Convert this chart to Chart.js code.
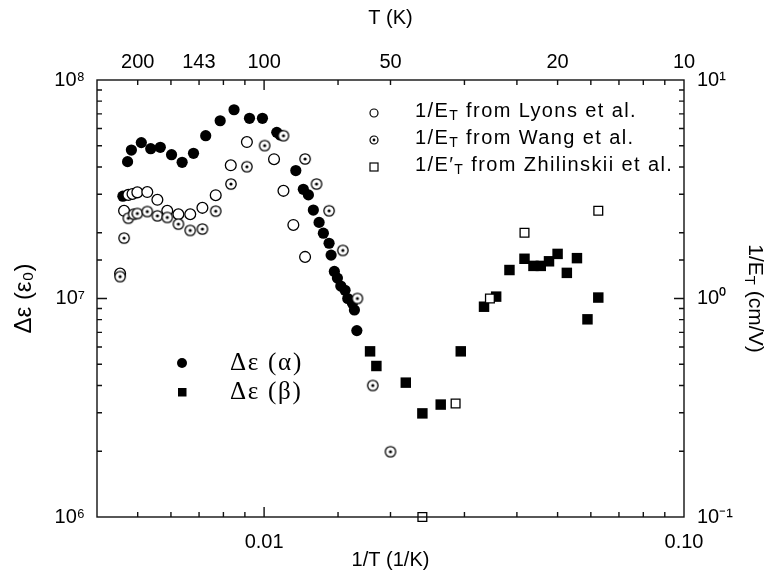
<!DOCTYPE html>
<html><head><meta charset="utf-8">
<script src="https://cdn.jsdelivr.net/npm/chart.js@4.4.1/dist/chart.umd.min.js"></script>
<style>html,body{margin:0;padding:0;background:#fff}#c{display:block}</style>
</head><body>
<canvas id="c" width="768" height="572"></canvas>
<script>
// ---- data (1/T in 1/K) ----
const alphaInvT = [0.00461,0.00473,0.00483,0.0051,0.00537,0.00566,0.00602,0.00638,0.00679,0.00726,0.00786,0.00848,0.00923,0.00991,0.01072,0.01092,0.0119,0.0124,0.01275,0.0131,0.01352,0.01384,0.01428,0.01444,0.0147,0.01495,0.01523,0.01559,0.01582,0.01623,0.01641,0.01663];
const alphaDeps = [2.94e7,4.23e7,4.78e7,5.17e7,4.85e7,4.92e7,4.55e7,4.20e7,4.62e7,5.56e7,6.51e7,7.31e7,6.68e7,6.68e7,5.76e7,5.6e7,3.85e7,3.16e7,2.98e7,2.54e7,2.23e7,1.99e7,1.79e7,1.58e7,1.33e7,1.24e7,1.14e7,1.09e7,1.0e7,9.5e6,8.86e6,7.13e6];
const betaInvT = [0.01788,0.01851,0.02175,0.02382,0.02634,0.0294,0.0334,0.0357,0.0384,0.0417,0.0438,0.0456,0.0477,0.0500,0.0526,0.0556,0.0589,0.0625];
const betaDeps = [5.73e6,4.91e6,4.12e6,2.98e6,3.27e6,5.73e6,9.17e6,1.02e7,1.35e7,1.52e7,1.41e7,1.41e7,1.48e7,1.60e7,1.31e7,1.53e7,8.03e6,1.01e7];
const lyonsInvT = [0.00454,0.00464,0.00475,0.00486,0.00499,0.00527,0.00557,0.00588,0.00625,0.00667,0.00713,0.00767,0.00833,0.0091,0.01056,0.01112,0.01174,0.01252];
const lyonsInvE = [1.30,2.52,2.98,3.01,3.06,3.07,2.83,2.52,2.43,2.43,2.60,2.97,4.07,5.20,4.34,3.11,2.17,1.55];
const wangInvT = [0.00454,0.00464,0.00475,0.00489,0.00499,0.00527,0.00557,0.00588,0.00625,0.00667,0.00713,0.00767,0.00834,0.0091,0.01003,0.01112,0.01252,0.01333,0.01428,0.0154,0.01668,0.01815,0.0200];
const wangInvE = [1.26,1.89,2.33,2.43,2.45,2.50,2.39,2.35,2.19,2.05,2.08,2.51,3.34,4.01,5.01,5.56,4.35,3.34,2.52,1.66,1.0,0.40,0.199];
const zhilInvT = [0.02382,0.02858,0.0345,0.0417,0.0625];
const zhilInvE = [0.1,0.331,1.0,2.0,2.52];

// ---- tick labels ----
const bottomTickValues = [0.01,0.1];
const bottomTickText = ['0.01','0.10'];
const topTickT = [200,143,100,50,20,10];
const leftTickValues = [1e6,1e7,1e8];
const leftTickText = ['10\u2076','10\u2077','10\u2078'];
const rightTickValues = [0.1,1,10];
const rightTickText = ['10\u207B\u00B9','10\u2070','10\u00B9'];

function pts(xs, ys){ return xs.map((x,i)=>({x:x, y:ys[i]})); }
function labelFor(v, vals, txt){
  for (let i=0;i<vals.length;i++){ if (Math.abs(Math.log10(v)-Math.log10(vals[i]))<1e-6) return txt[i]; }
  return '';
}
function makeDotRing(r, lw, dot){
  const s = Math.ceil(2*r+lw+2); const c=document.createElement('canvas'); c.width=s; c.height=s;
  const g=c.getContext('2d');
  g.beginPath(); g.arc(s/2,s/2,r,0,2*Math.PI); g.fillStyle='#fff'; g.fill();
  g.lineWidth=lw; g.strokeStyle='#000'; g.stroke();
  g.beginPath(); g.arc(s/2,s/2,dot,0,2*Math.PI); g.fillStyle='#000'; g.fill();
  return c;
}
const dotRing = makeDotRing(5.2,1.3,1.6);
const dotRingSmall = makeDotRing(4,1.2,1.4);

const SANS = '"Liberation Sans", Arial, Helvetica, sans-serif';
const SERIF = '"Liberation Serif", "Times New Roman", serif';
Chart.defaults.font.family = SANS;
Chart.defaults.color = '#000';

function drawRich(ctx, parts, x, y, size, spacing, align){
  ctx.letterSpacing = spacing+'px';
  let w = 0;
  const widths = parts.map(p=>{ ctx.font = (p[1]? Math.round(size*0.7):size)+'px '+SANS; const m=ctx.measureText(p[0]).width; w+=m; return m; });
  let cx = align==='center' ? x - w/2 : x;
  parts.forEach((p,i)=>{
    ctx.font = (p[1]? Math.round(size*0.7):size)+'px '+SANS;
    ctx.fillText(p[0], cx, y + (p[1]? size*0.28:0));
    cx += widths[i];
  });
  ctx.letterSpacing = '0px';
  return w;
}

const framePlugin = {
  id:'frame',
  afterDraw(chart){
    const ctx = chart.ctx, a = chart.chartArea;
    ctx.save();
    ctx.strokeStyle = '#111'; ctx.lineWidth = 1.4;
    ctx.strokeRect(a.left, a.top, a.right-a.left, a.bottom-a.top);
    const isMajor = v => Math.abs(Math.log10(v)-Math.round(Math.log10(v)))<1e-6;
    const xs = chart.scales.x;
    ctx.beginPath();
    xs.ticks.forEach(t=>{
      const px = xs.getPixelForValue(t.value);
      if (px < a.left+1 || px > a.right-1) return;
      const L = isMajor(t.value)?10:5;
      ctx.moveTo(px, a.bottom); ctx.lineTo(px, a.bottom-L);
      ctx.moveTo(px, a.top); ctx.lineTo(px, a.top+L);
    });
    const ys = chart.scales.y;
    ys.ticks.forEach(t=>{
      const py = ys.getPixelForValue(t.value);
      if (py < a.top+1 || py > a.bottom-1) return;
      const L = isMajor(t.value)?10:5;
      ctx.moveTo(a.left, py); ctx.lineTo(a.left+L, py);
    });
    const y2 = chart.scales.y2;
    y2.ticks.forEach(t=>{
      const py = y2.getPixelForValue(t.value);
      if (py < a.top+1 || py > a.bottom-1) return;
      const L = isMajor(t.value)?10:5;
      ctx.moveTo(a.right, py); ctx.lineTo(a.right-L, py);
    });
    ctx.stroke();

    // right axis title
    ctx.fillStyle = '#000'; ctx.textBaseline = 'middle';
    ctx.save();
    ctx.translate(755, (a.top+a.bottom)/2);
    ctx.rotate(Math.PI/2);
    drawRich(ctx, [['1/E',0],['T',1],[' (cm/V)',0]], 0, 0, 21, 0, 'center');
    ctx.restore();

    // top-right legend
    const rows = [
      {y:111, parts:[['1/E',0],['T',1],[' from Lyons et al.',0]], sym:'open'},
      {y:138, parts:[['1/E',0],['T',1],[' from Wang et al.',0]], sym:'dot'},
      {y:165, parts:[['1/E\u2032',0],['T',1],[' from Zhilinskii et al.',0]], sym:'sq'}
    ];
    ctx.textBaseline = 'middle';
    const FS = 20;
    let w0 = 0; ctx.letterSpacing='0px';
    rows[0].parts.forEach(p=>{ ctx.font=(p[1]?Math.round(FS*0.7):FS)+'px '+SANS; w0+=ctx.measureText(p[0]).width; });
    const nch = rows[0].parts.reduce((s,p)=>s+p[0].length,0);
    const sp = Math.max(0, (222 - w0)/nch);
    rows.forEach(r=>{
      drawRich(ctx, r.parts, 415, r.y, FS, sp, 'left');
      const sx = 374, sy = r.y+2;
      ctx.lineWidth = 1.2; ctx.strokeStyle='#000';
      if (r.sym==='open'){ ctx.beginPath(); ctx.arc(sx,sy,4,0,2*Math.PI); ctx.fillStyle='#fff'; ctx.fill(); ctx.stroke(); }
      else if (r.sym==='dot'){ ctx.drawImage(dotRingSmall, sx-dotRingSmall.width/2, sy-dotRingSmall.height/2); }
      else { ctx.fillStyle='#fff'; ctx.fillRect(sx-4,sy-4,8,8); ctx.strokeRect(sx-4,sy-4,8,8); }
      ctx.fillStyle='#000';
    });

    // bottom-left legend
    ctx.font = '25px '+SERIF;
    const lt = ['\u0394\u03B5 (\u03B1)', '\u0394\u03B5 (\u03B2)'];
    const lw = ctx.measureText(lt[0]).width;
    ctx.letterSpacing = Math.max(0,(73-lw)/lt[0].length)+'px';
    ctx.fillStyle='#000';
    ctx.fillText(lt[0], 230, 363);
    ctx.fillText(lt[1], 230, 392);
    ctx.letterSpacing='0px';
    ctx.beginPath(); ctx.arc(182,363,5,0,2*Math.PI); ctx.fill();
    ctx.fillRect(178,388,8.5,8.5);
    ctx.restore();
  }
};

const chart = new Chart(document.getElementById('c'), {
  type:'scatter',
  data:{ datasets:[
    {label:'1/E_T from Wang et al.', data:pts(wangInvT,wangInvE), yAxisID:'y2', pointStyle:dotRing, pointRadius:5, clip:false},
    {label:'1/E_T from Lyons et al.', data:pts(lyonsInvT,lyonsInvE), yAxisID:'y2', pointStyle:'circle', pointRadius:5.4, backgroundColor:'#fff', borderColor:'#000', borderWidth:1.3, clip:false},
    {label:"1/E'_T from Zhilinskii et al.", data:pts(zhilInvT,zhilInvE), yAxisID:'y2', pointStyle:'rect', pointRadius:6.2, backgroundColor:'#fff', borderColor:'#000', borderWidth:1.3, clip:false},
    {label:'\u0394\u03B5 (\u03B1)', data:pts(alphaInvT,alphaDeps), yAxisID:'y', pointStyle:'circle', pointRadius:5.6, backgroundColor:'#000', borderColor:'#000', borderWidth:0, clip:false},
    {label:'\u0394\u03B5 (\u03B2)', data:pts(betaInvT,betaDeps), yAxisID:'y', pointStyle:'rect', pointRadius:7.4, backgroundColor:'#000', borderColor:'#000', borderWidth:0, clip:false}
  ]},
  options:{
    responsive:false, animation:false, events:[],
    layout:{padding:0},
    plugins:{legend:{display:false}, tooltip:{enabled:false}},
    scales:{
      x:{type:'logarithmic', position:'bottom', min:0.004, max:0.1,
        grid:{display:false, drawTicks:false}, border:{display:false},
        ticks:{autoSkip:false, maxRotation:0, minRotation:0, padding:13, font:{size:20}, color:'#000',
          callback:(v)=>labelFor(v,bottomTickValues,bottomTickText)},
        title:{display:true, text:'1/T (1/K)', font:{size:20}, color:'#000', padding:{top:0,bottom:0}},
        afterFit:(s)=>{s.height=55;}},
      xTop:{type:'logarithmic', position:'top', min:0.004, max:0.1,
        grid:{display:false, drawTicks:false}, border:{display:false},
        afterBuildTicks:(s)=>{ s.ticks = topTickT.map(T=>({value:1/T})).sort((a,b)=>a.value-b.value); },
        ticks:{autoSkip:false, maxRotation:0, minRotation:0, padding:6, font:{size:20}, color:'#000',
          callback:(v)=>{ let best=''; let d=1e9; topTickT.forEach(T=>{ const e=Math.abs(1/T - v); if(e<d){d=e;best=String(T);} }); return best; }},
        title:{display:true, text:'T (K)', font:{size:20}, color:'#000', padding:{top:6,bottom:0}},
        afterFit:(s)=>{s.height=80;}},
      y:{type:'logarithmic', position:'left', min:1e6, max:1e8,
        grid:{display:false, drawTicks:false}, border:{display:false},
        ticks:{autoSkip:false, padding:12, font:{size:20}, color:'#000',
          callback:(v)=>labelFor(v,leftTickValues,leftTickText)},
        title:{display:true, text:'\u0394\u03B5 (\u03B5\u2080)', font:{size:24}, color:'#000', padding:{top:10,bottom:0}},
        afterFit:(s)=>{s.width=97;}},
      y2:{type:'logarithmic', position:'right', min:0.1, max:10,
        grid:{display:false, drawTicks:false}, border:{display:false},
        ticks:{autoSkip:false, padding:13, font:{size:20}, color:'#000',
          callback:(v)=>labelFor(v,rightTickValues,rightTickText)},
        afterFit:(s)=>{s.width=84;}}
    }
  },
  plugins:[framePlugin]
});
</script>
</body></html>
